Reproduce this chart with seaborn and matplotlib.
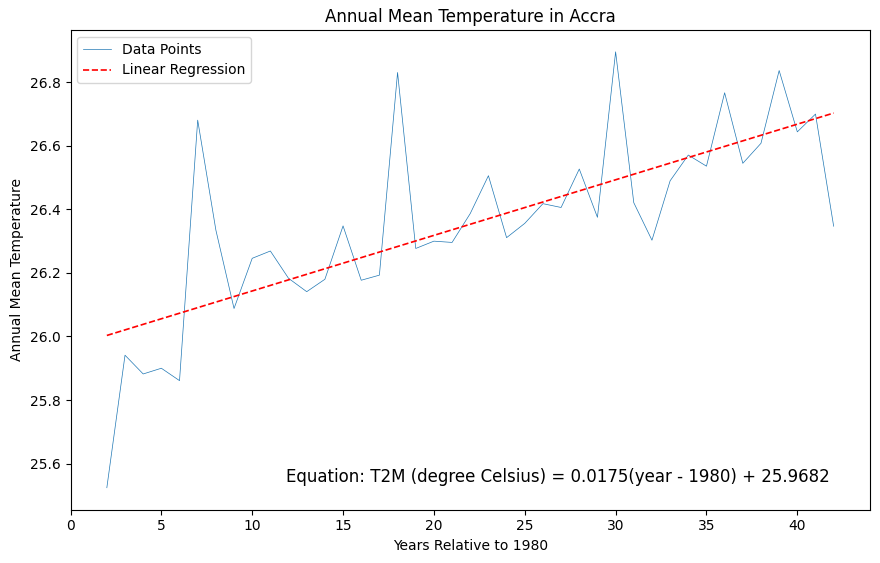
import numpy as np
import pandas as pd
import matplotlib
matplotlib.use("Agg")
import matplotlib.pyplot as plt
import seaborn as sns

years = [2, 3, 4, 5, 6, 7, 8, 9, 10, 11, 12, 13, 14, 15, 16, 17, 18, 19, 20, 21, 22,
         23, 24, 25, 26, 27, 28, 29, 30, 31, 32, 33, 34, 35, 36, 37, 38, 39, 40, 41, 42]
temps = [25.524, 25.941, 25.882, 25.900, 25.861, 26.681, 26.335, 26.088, 26.246, 26.269,
         26.183, 26.141, 26.180, 26.348, 26.177, 26.193, 26.831, 26.277, 26.300, 26.296,
         26.387, 26.506, 26.311, 26.356, 26.418, 26.406, 26.527, 26.375, 26.896, 26.421,
         26.303, 26.490, 26.571, 26.536, 26.767, 26.545, 26.608, 26.837, 26.644, 26.700,
         26.347]
slope = 0.0175
intercept = 25.9682

df = pd.DataFrame({"year": years, "temp": temps})
df["fit"] = slope * df["year"] + intercept

fig = plt.figure(figsize=(8.8, 5.63), dpi=100)
ax = fig.add_axes([70.5 / 880, (563 - 509.5) / 563, (870 - 70.5) / 880, (509.5 - 30) / 563])

sns.lineplot(data=df, x="year", y="temp", ax=ax, linewidth=0.5, color="C0", label="Data Points")
sns.lineplot(data=df, x="year", y="fit", ax=ax, color="red", linestyle="--", linewidth=1.2,
             label="Linear Regression")

ax.set_title("Annual Mean Temperature in Accra")
ax.set_xlabel("Years Relative to 1980")
ax.set_ylabel("Annual Mean Temperature")
ax.legend(loc="upper left")
ax.text(0.95, 0.05, "Equation: T2M (degree Celsius) = 0.0175(year - 1980) + 25.9682",
        transform=ax.transAxes, ha="right", va="bottom", fontsize=12)

fig.savefig("out.png", dpi=100)
